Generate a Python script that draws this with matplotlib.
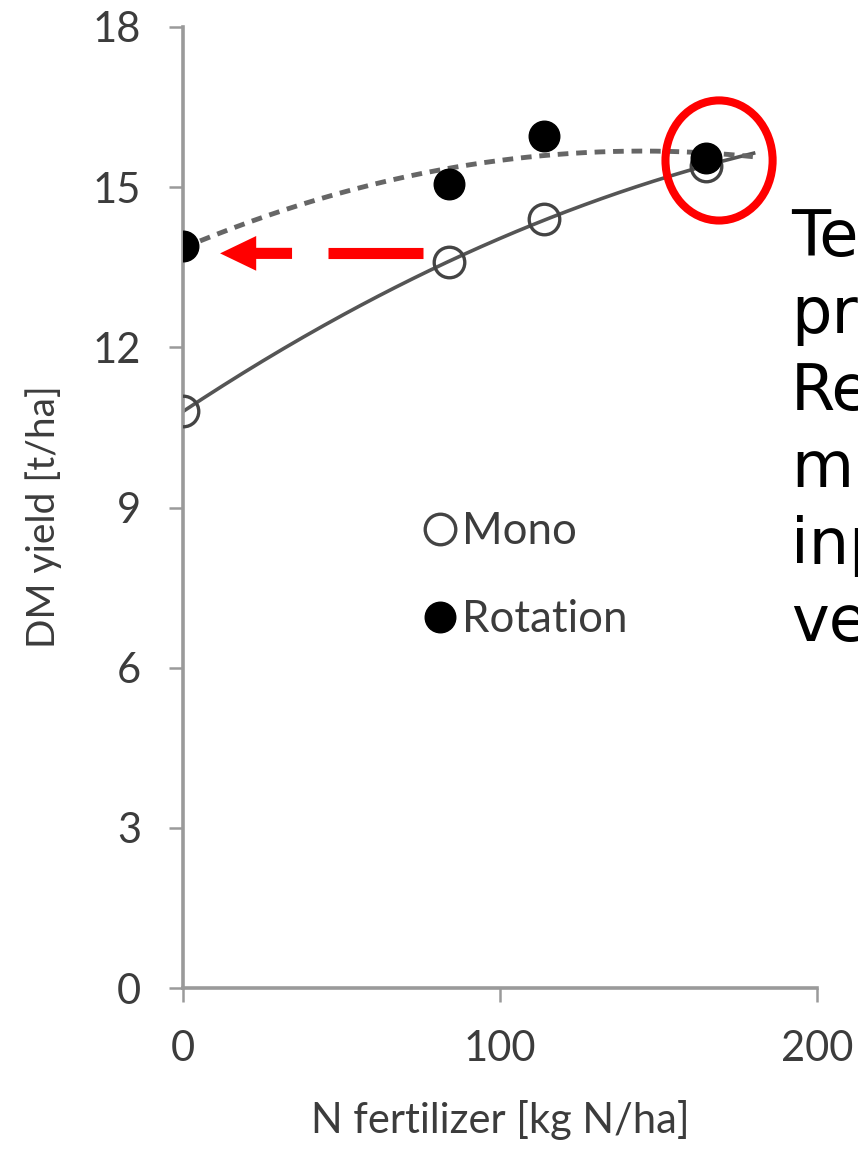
import numpy as np
import matplotlib
matplotlib.use("Agg")
import matplotlib.pyplot as plt
from matplotlib.patches import Ellipse

# data
n_rate = [0, 84, 114, 165]
mono = [10.8, 13.6, 14.4, 15.4]
rotation = [13.9, 15.05, 15.95, 15.55]

x_ticks = [0, 100, 200]
y_ticks = [0, 3, 6, 9, 12, 15, 18]

side_text = ["Te", "pr", "Re", "m", "inp", "ve"]

plt.rcParams["font.family"] = ["Lato", "DejaVu Sans"]
grey = "#3c3c3c"

fig = plt.figure(figsize=(8.58, 11.5), dpi=100)
ax = fig.add_axes([183 / 858, 162 / 1150, 634 / 858, 961 / 1150])

# quadratic trend lines like the spreadsheet ones
xs = np.linspace(0, 180, 200)
fit_m = np.polyfit(n_rate, mono, 2)
fit_r = np.polyfit(n_rate, rotation, 2)
ax.plot(xs, np.polyval(fit_m, xs), color="#555555", lw=2.6, zorder=2)
ax.plot(xs, np.polyval(fit_r, xs), color="#666666", lw=3.5,
        ls=(0, (2.2, 1.6)), zorder=2)

ax.plot(n_rate, mono, "o", ms=22, mfc="none", mec="#444444", mew=2.4,
        label="Mono", zorder=3)
ax.plot(n_rate, rotation, "o", ms=22, mfc="black", mec="black", mew=1,
        label="Rotation", zorder=4)

ax.set_xlim(0, 200)
ax.set_ylim(0, 18)
ax.set_xticks(x_ticks)
ax.set_yticks(y_ticks)
for s in ["top", "right"]:
    ax.spines[s].set_visible(False)
for s in ["left", "bottom"]:
    ax.spines[s].set_color("#9a9a9a")
    ax.spines[s].set_linewidth(2.6)
ax.tick_params(length=10, width=1.8, color="#9a9a9a", labelsize=30,
               labelcolor=grey, pad=20)

ax.set_xlabel("N fertilizer [kg N/ha]", fontsize=30, color=grey)
ax.xaxis.set_label_coords(0.5, -0.1165)
ax.set_ylabel("DM yield [t/ha]", fontsize=28, color=grey)
ax.yaxis.set_label_coords(-0.191, 0.49)

leg = ax.legend(loc="upper left", bbox_to_anchor=(425 / 858, 1 - 511 / 1150),
                bbox_transform=fig.transFigure, frameon=False, fontsize=31.5,
                handlelength=0.7, handletextpad=0.15, labelspacing=1.08,
                borderpad=0, borderaxespad=0, markerscale=1.0)
for t in leg.get_texts():
    t.set_color(grey)

# red highlight: ellipse round the last point and dashed arrow to the left
ax.add_patch(Ellipse((169.1, 15.5), 33.8, 2.25, fill=False, ec="red",
                     lw=5.8, zorder=5))
arrow_y = 13.76
ax.plot([45.7, 75.7], [arrow_y, arrow_y], color="red", lw=8,
        solid_capstyle="butt", zorder=5)
ax.annotate("", xy=(11.7, arrow_y), xytext=(34.4, arrow_y),
            arrowprops=dict(arrowstyle="simple,head_length=26,head_width=25,tail_width=8",
                            mutation_scale=1, fc="red", ec="none", lw=0,
                            shrinkA=0, shrinkB=0), zorder=5)

baseline = 256
for line in side_text:
    fig.text(791 / 858, 1 - baseline / 1150, line, fontsize=46,
             family="DejaVu Sans", color="black", va="baseline", ha="left")
    baseline += 77

fig.savefig("out.png", dpi=100)
